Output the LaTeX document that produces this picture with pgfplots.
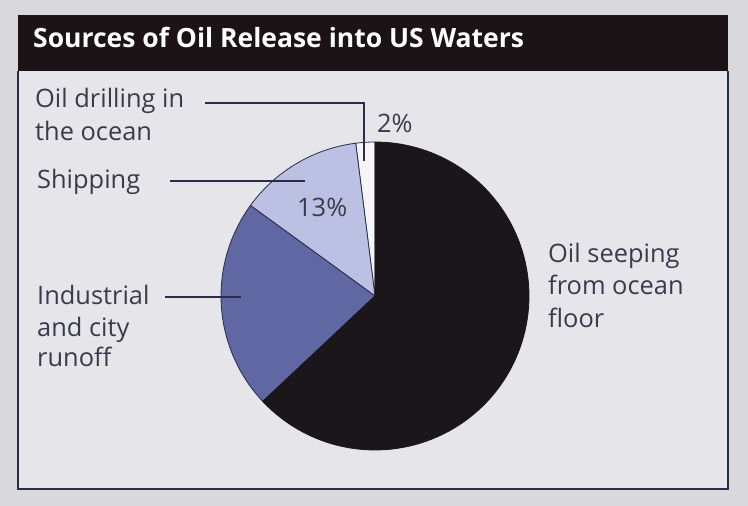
\documentclass[border=0pt]{standalone}
\usepackage{pgfplots}
\pgfplotsset{compat=1.18}
\usepackage{pgfplotstable}
\usepackage{fontspec}
\setmainfont{Open Sans}
\definecolor{bgout}{HTML}{D9D9DB}
\definecolor{bgin}{HTML}{E6E6EA}
\definecolor{titlebar}{HTML}{1C1316}
\definecolor{seep}{HTML}{1B1619}
\definecolor{runoff}{HTML}{5F68A2}
\definecolor{ship}{HTML}{BCC0E2}
\definecolor{drill}{HTML}{F5F5F8}
\definecolor{edge}{HTML}{2A2D4A}
\definecolor{txt}{HTML}{3A3A4C}

\pgfplotstableread{
source pct
drilling 2
shipping 13
runoff 22
seeping 63
}\piedata

\pgfmathsetmacro\aA{90}
\pgfplotstablegetelem{0}{pct}\of\piedata\pgfmathsetmacro\aB{\aA+3.6*\pgfplotsretval}
\pgfplotstablegetelem{1}{pct}\of\piedata\pgfmathsetmacro\aC{\aB+3.6*\pgfplotsretval}
\pgfplotstablegetelem{2}{pct}\of\piedata\pgfmathsetmacro\aD{\aC+3.6*\pgfplotsretval}
\pgfplotstablegetelem{3}{pct}\of\piedata\pgfmathsetmacro\aE{\aD+3.6*\pgfplotsretval}

\begin{document}
\begin{tikzpicture}
\begin{axis}[width=748bp,height=506bp,scale only axis,
  xmin=0,xmax=748,ymin=0,ymax=506,y dir=reverse,hide axis,clip=false]
\fill[bgout] (axis cs:0,0) rectangle (axis cs:748,506);
\fill[bgin] (axis cs:18,15) rectangle (axis cs:728,489);
\fill[titlebar] (axis cs:18,15) rectangle (axis cs:728,71);
\draw[edge,line width=1.5pt] (axis cs:18,71) -- (axis cs:18,489) -- (axis cs:728,489) -- (axis cs:728,71);
\node[anchor=base west,text=white,font=\bfseries\fontsize{26.6}{30}\selectfont,inner sep=0pt] at (axis cs:33,48) {Sources of Oil Release into US Waters};

% pie slices
\addplot[draw=edge,line width=0.8pt,fill=drill,domain=\aA:\aB,samples=8,variable=\t] ({375+154*cos(\t)},{296-154*sin(\t)}) -- (axis cs:375,296) -- cycle;
\addplot[draw=edge,line width=0.8pt,fill=ship,domain=\aB:\aC,samples=30,variable=\t] ({375+154*cos(\t)},{296-154*sin(\t)}) -- (axis cs:375,296) -- cycle;
\addplot[draw=edge,line width=0.8pt,fill=runoff,domain=\aC:\aD,samples=40,variable=\t] ({375+154*cos(\t)},{296-154*sin(\t)}) -- (axis cs:375,296) -- cycle;
\addplot[draw=seep,line width=0.8pt,fill=seep,domain=\aD:\aE,samples=100,variable=\t] ({375+154*cos(\t)},{296-154*sin(\t)}) -- (axis cs:375,296) -- cycle;

% leader lines
\draw[edge,line width=1.3pt] (axis cs:205,103) -- (axis cs:364,103) -- (axis cs:364,161);
\draw[edge,line width=1.3pt] (axis cs:170,181) -- (axis cs:305,181);
\draw[edge,line width=1.3pt] (axis cs:165,297) -- (axis cs:241,297);

% labels
\begin{scope}[every node/.style={anchor=base west,text=txt,font=\fontsize{25.5}{28}\selectfont,inner sep=0pt}]
\node at (axis cs:35,107) {Oil drilling in};
\node at (axis cs:35,140) {the ocean};
\node at (axis cs:37,188) {Shipping};
\node at (axis cs:37,304) {Industrial};
\node at (axis cs:37,336) {and city};
\node at (axis cs:37,366) {runoff};
\node at (axis cs:548,262) {Oil seeping};
\node at (axis cs:548,294) {from ocean};
\node at (axis cs:548,327) {floor};
\node at (axis cs:377,132) {2\%};
\node at (axis cs:297,216) {13\%};
\end{scope}
\end{axis}
\end{tikzpicture}
\end{document}
